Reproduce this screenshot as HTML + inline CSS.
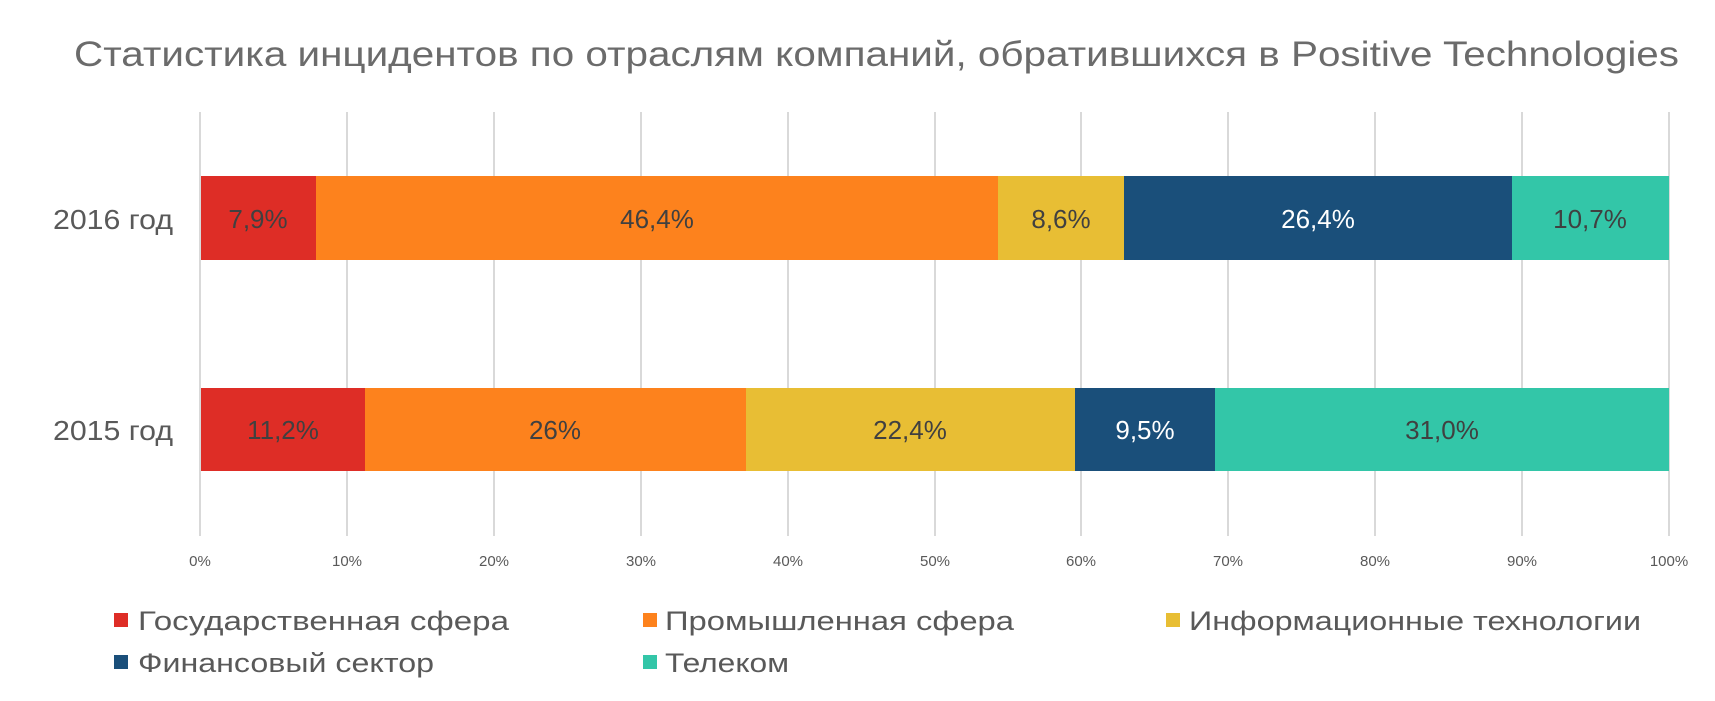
<!DOCTYPE html>
<html><head><meta charset="utf-8"><style>body{margin:0;background:#fff}svg{display:block}</style></head>
<body>
<svg width="1715" height="701" xmlns="http://www.w3.org/2000/svg" font-family="'Liberation Sans', sans-serif">
<rect width="1715" height="701" fill="#fff"/>
<text x="74" y="66" font-size="35" fill="#6b6b6b" textLength="1605" lengthAdjust="spacingAndGlyphs">Статистика инцидентов по отраслям компаний, обратившихся в Positive Technologies</text>
<g stroke="#d9d9d9" stroke-width="2">
<line x1="200" y1="112" x2="200" y2="536"/><line x1="347" y1="112" x2="347" y2="536"/><line x1="494" y1="112" x2="494" y2="536"/><line x1="641" y1="112" x2="641" y2="536"/><line x1="788" y1="112" x2="788" y2="536"/><line x1="935" y1="112" x2="935" y2="536"/><line x1="1081" y1="112" x2="1081" y2="536"/><line x1="1228" y1="112" x2="1228" y2="536"/><line x1="1375" y1="112" x2="1375" y2="536"/><line x1="1522" y1="112" x2="1522" y2="536"/><line x1="1669" y1="112" x2="1669" y2="536"/>
</g>
<rect x="201" y="176" width="115" height="84" fill="#de2d26"/>
<rect x="316" y="176" width="682" height="84" fill="#fd821d"/>
<rect x="998" y="176" width="126" height="84" fill="#e8be34"/>
<rect x="1124" y="176" width="388" height="84" fill="#1a4f7a"/>
<rect x="1512" y="176" width="157" height="84" fill="#33c6a8"/>
<rect x="201" y="388" width="164" height="83" fill="#de2d26"/>
<rect x="365" y="388" width="381" height="83" fill="#fd821d"/>
<rect x="746" y="388" width="329" height="83" fill="#e8be34"/>
<rect x="1075" y="388" width="140" height="83" fill="#1a4f7a"/>
<rect x="1215" y="388" width="454" height="83" fill="#33c6a8"/>
<g font-size="26" fill="#404040" text-anchor="middle">
<text x="258" y="228">7,9%</text><text x="657" y="228">46,4%</text><text x="1061" y="228">8,6%</text><text x="1318" y="228" fill="#fff">26,4%</text><text x="1590" y="228">10,7%</text>
<text x="283" y="439">11,2%</text><text x="555" y="439">26%</text><text x="910" y="439">22,4%</text><text x="1145" y="439" fill="#fff">9,5%</text><text x="1442" y="439">31,0%</text>
</g>
<g font-size="28" fill="#595959">
<text x="53" y="229" textLength="120" lengthAdjust="spacingAndGlyphs">2016 год</text><text x="53" y="440" textLength="120" lengthAdjust="spacingAndGlyphs">2015 год</text>
</g>
<g font-size="15" fill="#595959" text-anchor="middle">
<text x="200" y="566">0%</text><text x="347" y="566">10%</text><text x="494" y="566">20%</text><text x="641" y="566">30%</text><text x="788" y="566">40%</text><text x="935" y="566">50%</text><text x="1081" y="566">60%</text><text x="1228" y="566">70%</text><text x="1375" y="566">80%</text><text x="1522" y="566">90%</text><text x="1669" y="566">100%</text>
</g>
<g font-size="27" fill="#595959">
<rect x="114" y="613" width="14" height="14" fill="#de2d26"/><text x="138" y="630" textLength="371" lengthAdjust="spacingAndGlyphs">Государственная сфера</text>
<rect x="643" y="613" width="14" height="14" fill="#fd821d"/><text x="665" y="630" textLength="349" lengthAdjust="spacingAndGlyphs">Промышленная сфера</text>
<rect x="1166" y="613" width="14" height="14" fill="#e8be34"/><text x="1189" y="630" textLength="452" lengthAdjust="spacingAndGlyphs">Информационные технологии</text>
<rect x="114" y="655" width="14" height="14" fill="#1a4f7a"/><text x="138" y="672" textLength="296" lengthAdjust="spacingAndGlyphs">Финансовый сектор</text>
<rect x="643" y="655" width="14" height="14" fill="#33c6a8"/><text x="665" y="672" textLength="124" lengthAdjust="spacingAndGlyphs">Телеком</text>
</g>
</svg>
</body></html>
